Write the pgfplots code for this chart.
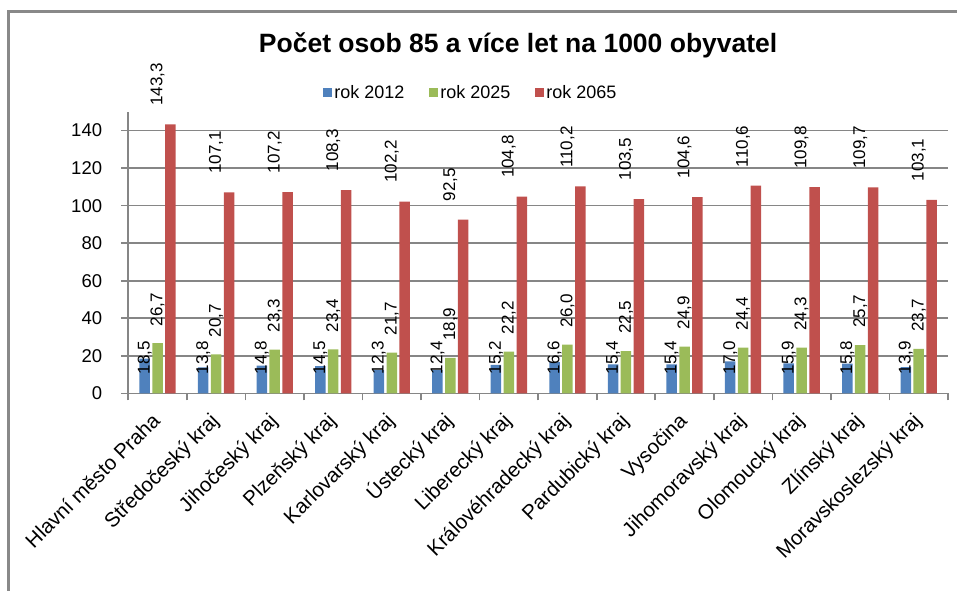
\documentclass[border=0pt]{standalone}
\usepackage{pgfplots}
\pgfplotsset{compat=1.18}
\usepackage{pgfplotstable}
\usepackage{fontspec}
\setmainfont{Liberation Sans}
\definecolor{c1}{HTML}{4F81BD}
\definecolor{c2}{HTML}{9BBB59}
\definecolor{c3}{HTML}{C0504D}
\definecolor{gridc}{RGB}{134,134,134}
\definecolor{framec}{RGB}{137,137,137}

\pgfplotstableread{
x a b c
0 18.5 26.7 143.3
1 13.8 20.7 107.1
2 14.8 23.3 107.2
3 14.5 23.4 108.3
4 12.3 21.7 102.2
5 12.4 18.9 92.5
6 15.2 22.2 104.8
7 16.6 26.0 110.2
8 15.4 22.5 103.5
9 15.4 24.9 104.6
10 17.0 24.4 110.6
11 15.9 24.3 109.8
12 15.8 25.7 109.7
13 13.9 23.7 103.1
}\data

\pgfplotsset{
  lbl/.style={nodes near coords={\pgfmathprintnumber[fixed,fixed zerofill,precision=1,use comma,assume math mode=true]{\pgfplotspointmeta}},
    every node near coord/.append style={font=\fontsize{17}{19}\selectfont, inner sep=0pt, black, yshift=#1, rotate=90, anchor=west}},
}

\begin{document}
\begin{tikzpicture}
\begin{axis}[
  scale only axis, width=819.7pt, height=281.5pt,
  xmin=-0.5, xmax=13.5, ymin=0, ymax=150,
  ytick={0,20,...,140},
  xtick={0,...,13},
  xticklabels={Hlavní město Praha, Středočeský kraj, Jihočeský kraj, Plzeňský kraj, Karlovarský kraj, Ústecký kraj, Liberecký kraj, Královéhradecký kraj, Pardubický kraj, Vysočina, Jihomoravský kraj, Olomoucký kraj, Zlínský kraj, Moravskoslezský kraj},
  minor xtick={-0.5,0.5,...,13.5},
  axis lines*=left,
  ymajorgrids,
  grid style={gridc, line width=1.6pt},
  axis line style={gridc, line width=1.6pt},
  tick align=outside,
  major tick length=7pt, minor tick length=7pt,
  tick style={gridc, line width=1.6pt},
  major x tick style={draw=none},
  minor x tick style={gridc, line width=1.6pt},
  /pgf/number format/assume math mode=true,
  yticklabel style={font=\fontsize{18.5}{20}\selectfont, inner sep=0pt, anchor=east, xshift=-19pt},
  xticklabel style={font=\fontsize{20.5}{23}\selectfont, inner sep=0pt, text height=14.5pt, text depth=4pt, xshift=0pt, yshift=-18pt, rotate=45, anchor=east},
  bar width=10.5pt,
  title={Počet osob 85 a více let na 1000 obyvatel},
  title style={at={(0.4756,1.188)}, anchor=base, font=\bfseries\fontsize{26.5}{30}\selectfont},
  legend style={at={(0.418,1.067)}, anchor=center, draw=none, fill=none, legend columns=3,
    font=\fontsize{18}{20}\selectfont, inner sep=0pt,
    /tikz/every even column/.append style={column sep=23pt}},
  legend image code/.code={\path[#1, draw=none] (0pt,-4.5pt) rectangle (9pt,4.5pt);},
]
\addplot[ybar, fill=c1, draw=none, bar shift=-12.9pt] table[x=x, y=a] {\data};
\addlegendentry{rok 2012}
\addplot[ybar, fill=c2, draw=none, bar shift=0pt, lbl=17pt] table[x=x, y=b] {\data};
\addlegendentry{rok 2025}
\addplot[ybar, fill=c3, draw=none, bar shift=12.9pt, lbl=18.5pt] table[x=x, y=c] {\data};
\addlegendentry{rok 2065}
\addplot[draw=none, mark=none, forget plot, point meta=explicit, lbl=0pt]
  table[x expr=\thisrow{x}-0.2203, y expr=10.1, meta=a] {\data};
\end{axis}
\draw[framec, line width=3pt] (-119.3pt,-250pt) -- (-119.3pt,381.6pt) -- (900pt,381.6pt);
\pgfresetboundingbox
\path (-128.3pt,-196.7pt) rectangle (828.7pt,393.3pt);
\end{tikzpicture}
\end{document}
